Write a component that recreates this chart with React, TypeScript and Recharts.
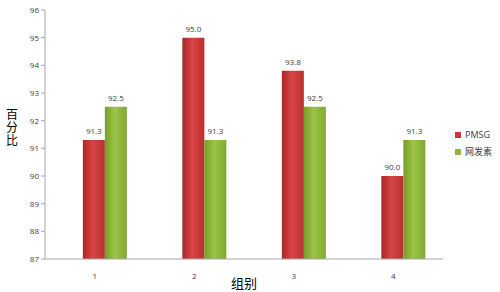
import { Bar, BarChart, LabelList, XAxis, YAxis } from "recharts";

const GROUPS = ["1", "2", "3", "4"];
const PMSG = [91.3, 95.0, 93.8, 90.0];
const WANGFASU = [92.5, 91.3, 92.5, 91.3];
const Y_TICKS = [87, 88, 89, 90, 91, 92, 93, 94, 95, 96];
const SERIES = [
  { key: "pmsg", name: "PMSG", fill: "url(#gRed)", swatch: "#C8393B" },
  { key: "wfs", name: "网发素", fill: "url(#gGreen)", swatch: "#8DB83A" },
];

const data = GROUPS.map((g, i) => ({ group: g, idx: i + 0.5, pmsg: PMSG[i], wfs: WANGFASU[i] }));

const FONT = "'Open Sans', 'Noto Sans CJK SC', sans-serif";
const CJK = "'Noto Sans CJK SC', sans-serif";
const AXIS = "#A6A6A6";

// stacked upright title like the Excel original
function YTitle() {
  return (
    <text
      x={12}
      y={108}
      fontSize={12}
      fill="#000"
      fontFamily={CJK}
      style={{ writingMode: "vertical-rl", letterSpacing: 1 }}
    >
      百分比
    </text>
  );
}

export default function App() {
  return (
    <div style={{ position: "absolute", left: 0, top: 0, width: 500, height: 292, background: "#fff" }}>
      <BarChart
        width={500}
        height={292}
        data={data}
        margin={{ top: 10, right: 57, bottom: 3, left: 0 }}
        barCategoryGap="28%"
        barGap={0}
      >
        <defs>
          <linearGradient id="gRed" x1="0" y1="0" x2="1" y2="0">
            <stop offset="0%" stopColor="#A8282A" />
            <stop offset="45%" stopColor="#D94446" />
            <stop offset="100%" stopColor="#B8302F" />
          </linearGradient>
          <linearGradient id="gGreen" x1="0" y1="0" x2="1" y2="0">
            <stop offset="0%" stopColor="#779C2C" />
            <stop offset="45%" stopColor="#9CC444" />
            <stop offset="100%" stopColor="#82A834" />
          </linearGradient>
        </defs>
        <XAxis
          xAxisId="cat"
          dataKey="group"
          height={30}
          stroke={AXIS}
          tickLine={false}
          tick={{ fontSize: 8, fill: "#404040", fontFamily: FONT }}
          tickMargin={8}
          label={{ value: "组别", position: "insideBottom", offset: 1, fontSize: 13, fill: "#000", fontFamily: CJK }}
        />
        {/* bars sit a little right of the category centre in the original */}
        <XAxis xAxisId="bars" dataKey="group" hide height={0} padding={{ left: 10, right: -10 }} />
        <XAxis
          xAxisId="edge"
          type="number"
          dataKey="idx"
          domain={[0, 4]}
          ticks={[0, 1, 2, 3, 4]}
          height={0}
          axisLine={false}
          tick={false}
          tickLine={{ stroke: AXIS }}
          tickSize={4}
        />
        <YAxis
          width={45}
          domain={[87, 96]}
          ticks={Y_TICKS}
          stroke={AXIS}
          tickSize={4}
          tick={{ fontSize: 8, fill: "#404040", fontFamily: FONT }}
          label={<YTitle />}
        />
        {SERIES.map((s) => (
          <Bar key={s.key} xAxisId="bars" dataKey={s.key} name={s.name} fill={s.fill} isAnimationActive={false}>
            <LabelList
              dataKey={s.key}
              position="top"
              offset={6}
              formatter={(v: number) => v.toFixed(1)}
              style={{ fontSize: 8, fill: "#404040", fontFamily: FONT }}
            />
          </Bar>
        ))}
      </BarChart>
      <div style={{ position: "absolute", left: 455, top: 126, fontFamily: FONT, fontSize: 9, color: "#404040" }}>
        {SERIES.map((s) => (
          <div key={s.key} style={{ display: "flex", alignItems: "center", height: 17 }}>
            <span style={{ width: 6, height: 6, background: s.swatch, marginRight: 4, display: "inline-block" }} />
            {s.name}
          </div>
        ))}
      </div>
    </div>
  );
}
